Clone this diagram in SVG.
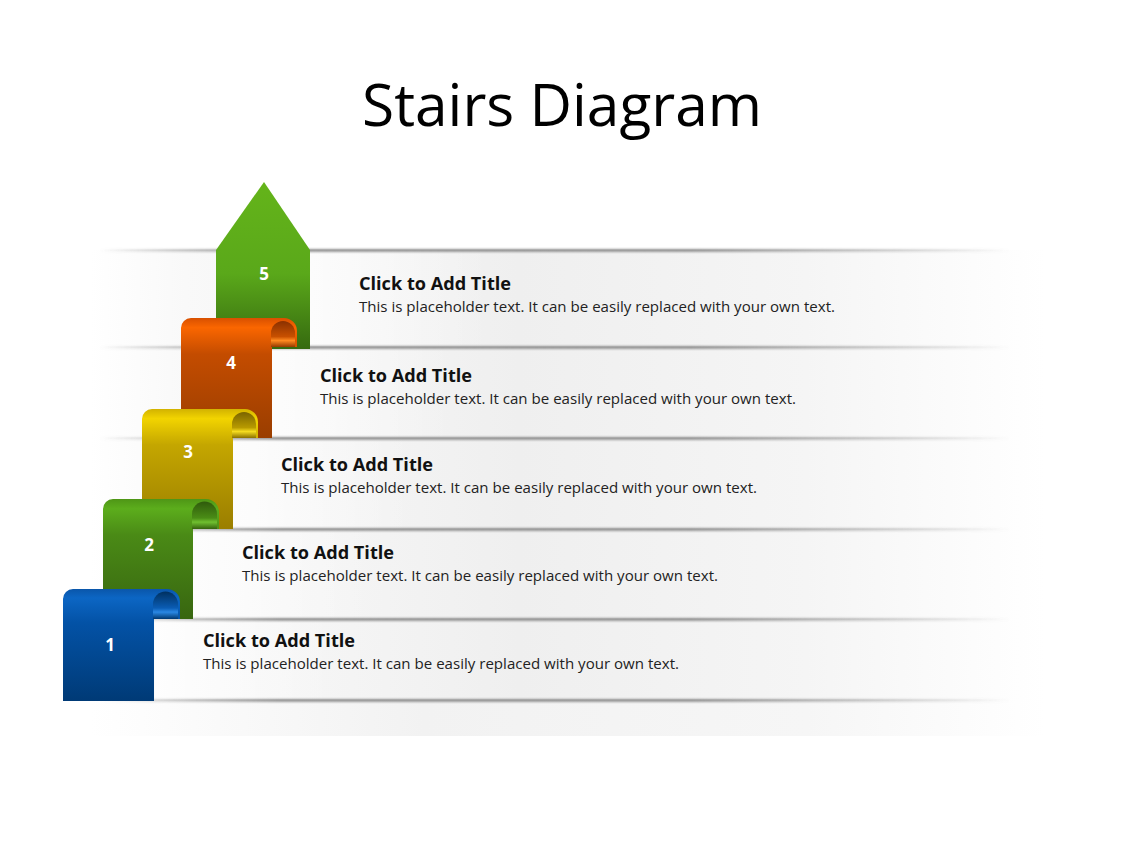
<svg xmlns="http://www.w3.org/2000/svg" width="1128" height="846" viewBox="0 0 1128 846">
  <style>
    .title { font-family: "Open Sans", "Liberation Sans", sans-serif; font-size: 59px; fill: #000; }
    .h { font-family: "Open Sans", "Liberation Sans", sans-serif; font-weight: bold; font-size: 18px; fill: #111; }
    .d { font-family: "Open Sans", "Liberation Sans", sans-serif; font-size: 14px; fill: #222; }
    .n { font-family: "Open Sans", "Liberation Sans", sans-serif; font-weight: bold; font-size: 17px; fill: #fff; text-anchor: middle; }
  </style>
  <defs>
    <linearGradient id="bandFill" gradientUnits="userSpaceOnUse" x1="90" y1="0" x2="1045" y2="0">
      <stop offset="0" stop-color="#ffffff"/>
      <stop offset="0.1" stop-color="#f9f9f9"/>
      <stop offset="0.45" stop-color="#efefef"/>
      <stop offset="0.75" stop-color="#f5f5f5"/>
      <stop offset="1" stop-color="#ffffff"/>
    </linearGradient>
    <linearGradient id="floorFill" x1="0" y1="0" x2="1" y2="0">
      <stop offset="0" stop-color="#ffffff"/>
      <stop offset="0.35" stop-color="#f2f2f2"/>
      <stop offset="0.75" stop-color="#f6f6f6"/>
      <stop offset="1" stop-color="#ffffff"/>
    </linearGradient>
    <linearGradient id="glow" x1="0" y1="0" x2="1" y2="0">
      <stop offset="0" stop-color="#ffffff" stop-opacity="1"/>
      <stop offset="1" stop-color="#ffffff" stop-opacity="0"/>
    </linearGradient>
    <linearGradient id="shadowH" gradientUnits="userSpaceOnUse" x1="100" y1="0" x2="1010" y2="0">
      <stop offset="0" stop-color="#888" stop-opacity="0"/>
      <stop offset="0.2" stop-color="#888" stop-opacity="0.85"/>
      <stop offset="0.65" stop-color="#888" stop-opacity="0.85"/>
      <stop offset="1" stop-color="#888" stop-opacity="0"/>
    </linearGradient>
    <filter id="blur" x="-5%" y="-200%" width="110%" height="500%">
      <feGaussianBlur stdDeviation="1.2"/>
    </filter>
    <linearGradient id="gBlue" x1="0" y1="0" x2="0" y2="1">
      <stop offset="0" stop-color="#0a56aa"/>
      <stop offset="0.08" stop-color="#0c66c4"/>
      <stop offset="0.3" stop-color="#0352a6"/>
      <stop offset="1" stop-color="#003a76"/>
    </linearGradient>
    <linearGradient id="cBlue" x1="0" y1="0" x2="0" y2="1">
      <stop offset="0" stop-color="#00305f"/>
      <stop offset="0.6" stop-color="#0a5cb4"/>
      <stop offset="0.75" stop-color="#2a88e4"/>
      <stop offset="1" stop-color="#003870"/>
    </linearGradient>
    <linearGradient id="gGreen" x1="0" y1="0" x2="0" y2="1">
      <stop offset="0" stop-color="#4e9616"/>
      <stop offset="0.08" stop-color="#5cad1c"/>
      <stop offset="0.3" stop-color="#4a8a16"/>
      <stop offset="1" stop-color="#386610"/>
    </linearGradient>
    <linearGradient id="cGreen" x1="0" y1="0" x2="0" y2="1">
      <stop offset="0" stop-color="#2f5a0c"/>
      <stop offset="0.6" stop-color="#4a8c16"/>
      <stop offset="0.75" stop-color="#70c030"/>
      <stop offset="1" stop-color="#35620e"/>
    </linearGradient>
    <linearGradient id="gYellow" x1="0" y1="0" x2="0" y2="1">
      <stop offset="0" stop-color="#d2b200"/>
      <stop offset="0.08" stop-color="#f2d400"/>
      <stop offset="0.3" stop-color="#c4a600"/>
      <stop offset="1" stop-color="#9a7e00"/>
    </linearGradient>
    <linearGradient id="cYellow" x1="0" y1="0" x2="0" y2="1">
      <stop offset="0" stop-color="#7a6400"/>
      <stop offset="0.6" stop-color="#b89a00"/>
      <stop offset="0.75" stop-color="#f5dc20"/>
      <stop offset="1" stop-color="#8a7000"/>
    </linearGradient>
    <linearGradient id="gOrange" x1="0" y1="0" x2="0" y2="1">
      <stop offset="0" stop-color="#d85000"/>
      <stop offset="0.08" stop-color="#fa6600"/>
      <stop offset="0.3" stop-color="#c44c00"/>
      <stop offset="1" stop-color="#9a3e00"/>
    </linearGradient>
    <linearGradient id="cOrange" x1="0" y1="0" x2="0" y2="1">
      <stop offset="0" stop-color="#8a3000"/>
      <stop offset="0.6" stop-color="#c85000"/>
      <stop offset="0.75" stop-color="#ff8a20"/>
      <stop offset="1" stop-color="#943a00"/>
    </linearGradient>
    <linearGradient id="gArrow" x1="0" y1="0" x2="0" y2="1">
      <stop offset="0" stop-color="#64b41a"/>
      <stop offset="0.55" stop-color="#5aa81a"/>
      <stop offset="1" stop-color="#366a10"/>
    </linearGradient>
  </defs>

  <rect width="1128" height="846" fill="#ffffff"/>

  <text class="title" x="362" y="126" textLength="400" lengthAdjust="spacingAndGlyphs">Stairs Diagram</text>

  <!-- stair bands -->
  <g id="bands">
    <rect x="90" y="700" width="955" height="36" fill="url(#floorFill)"/>
    <rect x="90" y="250" width="955" height="97" fill="url(#bandFill)"/>
    <rect x="90" y="347" width="955" height="91" fill="url(#bandFill)"/>
    <rect x="90" y="438" width="955" height="91" fill="url(#bandFill)"/>
    <rect x="90" y="529" width="955" height="90" fill="url(#bandFill)"/>
    <rect x="90" y="619" width="955" height="81" fill="url(#bandFill)"/>
    <rect x="310" y="250" width="180" height="97" fill="url(#glow)" opacity="0.7"/>
    <rect x="272" y="347" width="180" height="91" fill="url(#glow)" opacity="0.7"/>
    <rect x="233" y="438" width="180" height="91" fill="url(#glow)" opacity="0.7"/>
    <rect x="193" y="529" width="180" height="90" fill="url(#glow)" opacity="0.7"/>
    <rect x="155" y="619" width="180" height="81" fill="url(#glow)" opacity="0.7"/>
    <g filter="url(#blur)">
      <rect x="100" y="249" width="910" height="3" fill="url(#shadowH)"/>
      <rect x="100" y="346" width="910" height="3" fill="url(#shadowH)"/>
      <rect x="100" y="437" width="910" height="3" fill="url(#shadowH)"/>
      <rect x="100" y="528" width="910" height="3" fill="url(#shadowH)"/>
      <rect x="100" y="618" width="910" height="3" fill="url(#shadowH)"/>
      <rect x="100" y="699" width="910" height="3" fill="url(#shadowH)"/>
    </g>
    <g opacity="0.6">
      <rect x="100" y="249.5" width="910" height="1" fill="url(#shadowH)"/>
      <rect x="100" y="346.5" width="910" height="1" fill="url(#shadowH)"/>
      <rect x="100" y="437.5" width="910" height="1" fill="url(#shadowH)"/>
      <rect x="100" y="528.5" width="910" height="1" fill="url(#shadowH)"/>
      <rect x="100" y="618.5" width="910" height="1" fill="url(#shadowH)"/>
      <rect x="100" y="699.5" width="910" height="1" fill="url(#shadowH)"/>
    </g>
  </g>

  <!-- step 5 (arrow) -->
  <g id="step5">
    <path d="M216,250 L264,182 L310,250 L310,349 L216,349 Z" fill="url(#gArrow)"/>
    <text class="n" x="264" y="280">5</text>
    <text class="h" x="359" y="290" textLength="152" lengthAdjust="spacingAndGlyphs">Click to Add Title</text>
    <text class="d" x="359" y="312" textLength="476" lengthAdjust="spacingAndGlyphs">This is placeholder text. It can be easily replaced with your own text.</text>
  </g>

  <!-- step 4 -->
  <g id="step4">
    <path d="M181,438 V328 A10,10 0 0 1 191,318 H284 A13,13 0 0 1 297,331 V347 H272 V438 Z" fill="url(#gOrange)"/>
    <path d="M271,347 V333 A12,12 0 0 1 295,333 V347 Z" fill="url(#cOrange)"/>
    <text class="n" x="231" y="369">4</text>
    <text class="h" x="320" y="382" textLength="152" lengthAdjust="spacingAndGlyphs">Click to Add Title</text>
    <text class="d" x="320" y="404" textLength="476" lengthAdjust="spacingAndGlyphs">This is placeholder text. It can be easily replaced with your own text.</text>
  </g>

  <!-- step 3 -->
  <g id="step3">
    <path d="M142,529 V419 A10,10 0 0 1 152,409 H245 A13,13 0 0 1 258,422 V438 H233 V529 Z" fill="url(#gYellow)"/>
    <path d="M232,438 V424 A12,12 0 0 1 256,424 V438 Z" fill="url(#cYellow)"/>
    <text class="n" x="188" y="458">3</text>
    <text class="h" x="281" y="471" textLength="152" lengthAdjust="spacingAndGlyphs">Click to Add Title</text>
    <text class="d" x="281" y="493" textLength="476" lengthAdjust="spacingAndGlyphs">This is placeholder text. It can be easily replaced with your own text.</text>
  </g>

  <!-- step 2 -->
  <g id="step2">
    <path d="M103,619 V509 A10,10 0 0 1 113,499 H206 A13,13 0 0 1 219,512 V529 H193 V619 Z" fill="url(#gGreen)"/>
    <path d="M192,529 V514 A12,12 0 0 1 217,514 V529 Z" fill="url(#cGreen)"/>
    <text class="n" x="149" y="551">2</text>
    <text class="h" x="242" y="559" textLength="152" lengthAdjust="spacingAndGlyphs">Click to Add Title</text>
    <text class="d" x="242" y="581" textLength="476" lengthAdjust="spacingAndGlyphs">This is placeholder text. It can be easily replaced with your own text.</text>
  </g>

  <!-- step 1 -->
  <g id="step1">
    <path d="M63,701 V599 A10,10 0 0 1 73,589 H167 A13,13 0 0 1 180,602 V619 H154 V701 Z" fill="url(#gBlue)"/>
    <path d="M153,619 V604 A12,12 0 0 1 178,604 V619 Z" fill="url(#cBlue)"/>
    <text class="n" x="110" y="651">1</text>
    <text class="h" x="203" y="647" textLength="152" lengthAdjust="spacingAndGlyphs">Click to Add Title</text>
    <text class="d" x="203" y="669" textLength="476" lengthAdjust="spacingAndGlyphs">This is placeholder text. It can be easily replaced with your own text.</text>
  </g>

  <g id="connectors"/>
</svg>
